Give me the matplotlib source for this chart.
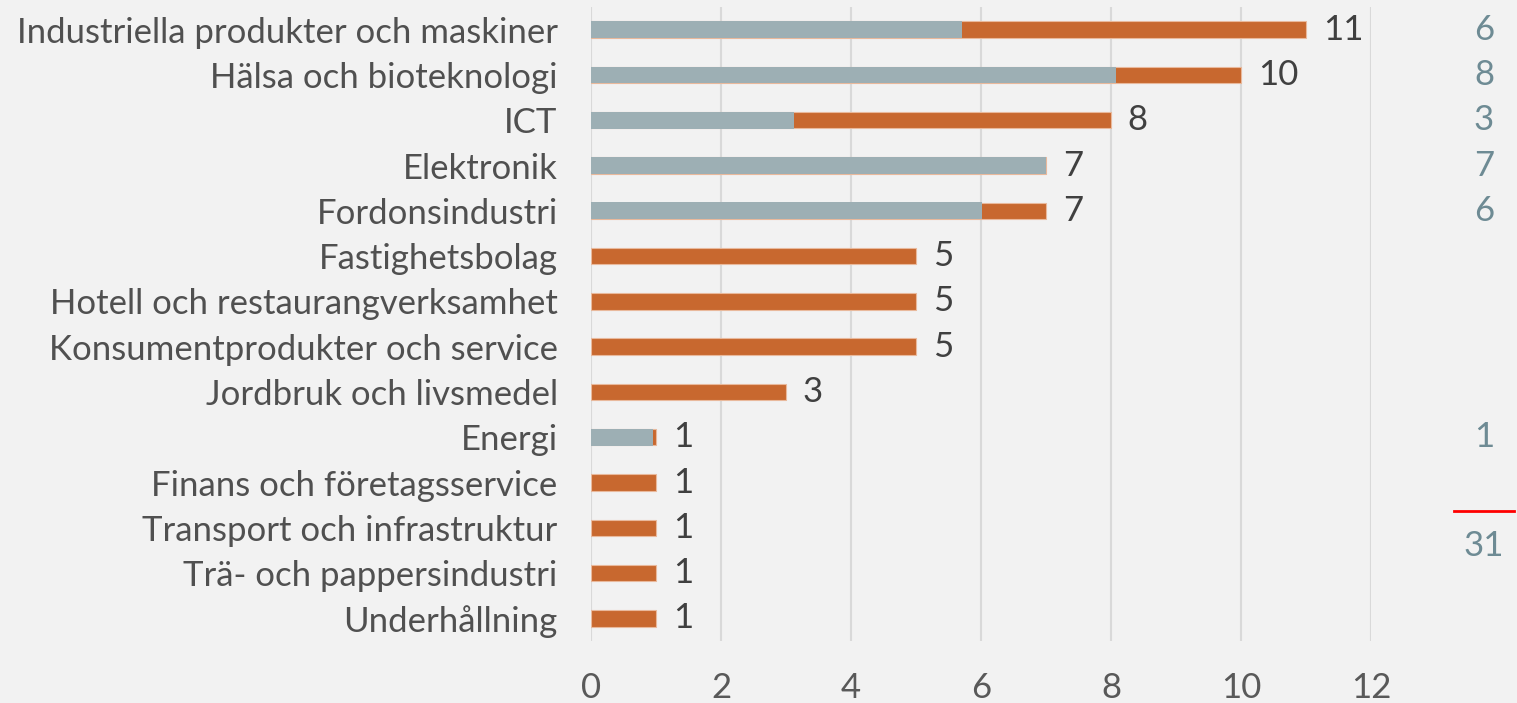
import matplotlib.pyplot as plt
from matplotlib.transforms import blended_transform_factory
from matplotlib.lines import Line2D

categories = ["Industriella produkter och maskiner", "Hälsa och bioteknologi", "ICT",
              "Elektronik", "Fordonsindustri", "Fastighetsbolag",
              "Hotell och restaurangverksamhet", "Konsumentprodukter och service",
              "Jordbruk och livsmedel", "Energi", "Finans och företagsservice",
              "Transport och infrastruktur", "Trä- och pappersindustri", "Underhållning"]
totals = [11, 10, 8, 7, 7, 5, 5, 5, 3, 1, 1, 1, 1, 1]
grey_part = [5.7, 8.08, 3.12, 7, 6.02, 0, 0, 0, 0, 0.95, 0, 0, 0, 0]
right_counts = [6, 8, 3, 7, 6, None, None, None, None, 1, None, None, None, None]
right_total = 31
xticks = [0, 2, 4, 6, 8, 10, 12]

orange = "#C8682F"
grey = "#9DAFB4"
bg = "#F2F2F2"
font = "Lato"

fig = plt.figure(figsize=(15.17, 7.03), dpi=100, facecolor=bg)
ax = fig.add_axes([591 / 1517, 1 - 641 / 703, 780 / 1517, 634 / 703], facecolor=bg)

y = list(range(len(categories)))
ax.barh(y, totals, height=0.36, color=orange, edgecolor="#E9B99C", linewidth=0.8, zorder=2)
ax.barh(y, grey_part, height=0.37, color=grey, linewidth=0, zorder=3)

for yi, v in zip(y, totals):
    ax.annotate(str(v), (v, yi), xytext=(12, 0), textcoords="offset points",
                ha="left", va="center", fontsize=25, color="#404040", family=font)

ax.set_xlim(0, 12)
ax.set_ylim(len(categories) - 0.5, -0.5)
ax.set_xticks(xticks)
ax.set_xticklabels([str(t) for t in xticks], fontsize=25, color="#595959", family=font)
ax.set_yticks(y)
ax.set_yticklabels(categories, fontsize=25, color="#505050", family=font)
ax.tick_params(axis="y", length=0, pad=24)
ax.tick_params(axis="x", length=0, pad=22)
ax.grid(axis="x", color="#D9D9D9", linewidth=1.5, zorder=0)
ax.set_axisbelow(True)
for s in ax.spines.values():
    s.set_visible(False)

# numbers in the right-hand column
tr = blended_transform_factory(fig.transFigure, ax.transData)
for yi, c in zip(y, right_counts):
    if c is not None:
        ax.text(1484 / 1517, yi, str(c), transform=tr, ha="center", va="center",
                fontsize=25, color="#6E8B94", family=font, clip_on=False)
fig.add_artist(Line2D([1454 / 1517, 1514 / 1517], [1 - 511 / 703, 1 - 511 / 703],
                      color="red", linewidth=2))
fig.text(1484 / 1517, 1 - 546 / 703, str(right_total), ha="center", va="center",
         fontsize=25, color="#6E8B94", family=font)

fig.savefig("out.png", dpi=100, facecolor=bg)
